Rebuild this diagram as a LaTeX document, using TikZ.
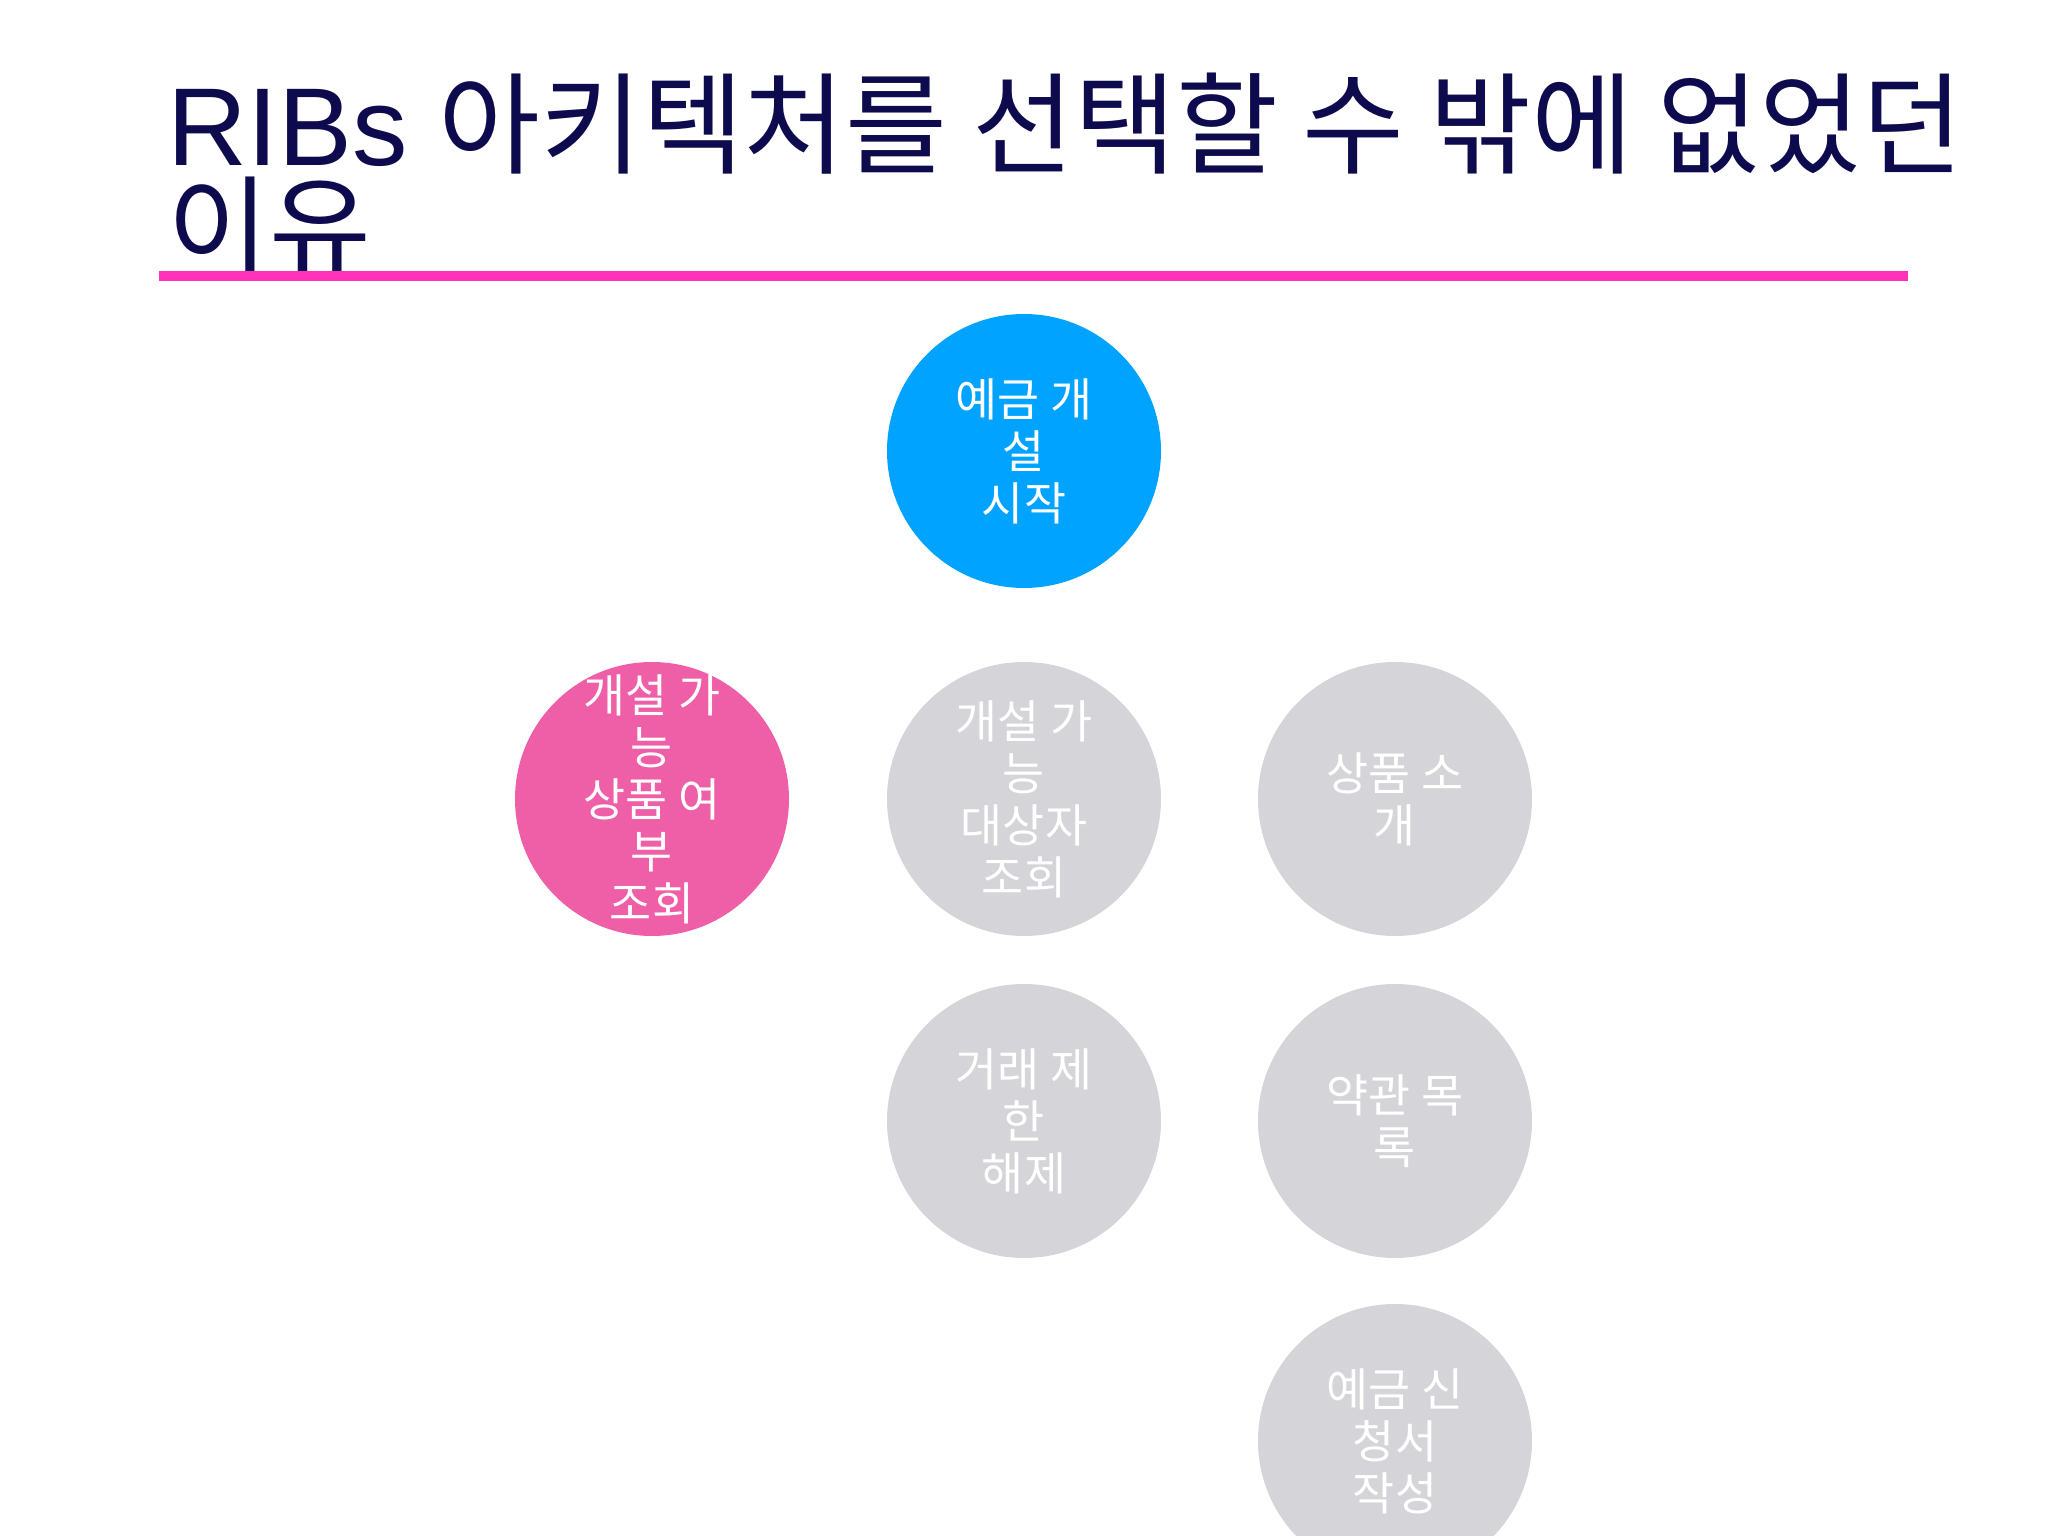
\documentclass[tikz,border=0pt]{standalone}
\usepackage{fontspec}
\usepackage{xcolor}
\usepackage{tikz}
\setmainfont{Liberation Sans}
\newfontfamily\kr{Noto Sans CJK KR}

\definecolor{titlenavy}{HTML}{0E0A4E}
\definecolor{rulepink}{HTML}{FF33BB}
\definecolor{startblue}{HTML}{00A3FF}
\definecolor{nowpink}{HTML}{EF5FA7}
\definecolor{stepgray}{HTML}{D5D4D8}

\tikzset{
	bubble/.style={circle, minimum size=2.74cm, inner sep=0pt, text=white, align=center,
		font=\kr\fontsize{13}{14.8}\selectfont},
	startbubble/.style={bubble, fill=startblue},
	nowbubble/.style={bubble, fill=nowpink, inner sep=-0.1cm},
	restbubble/.style={bubble, fill=stepgray}
}

\begin{document}
\begin{tikzpicture}
	\useasboundingbox (0,0) rectangle (20.48,-15.36);
	\clip (0,0) rectangle (20.48,-15.36);
%title
	\node[anchor=base west, inner sep=0pt, text=titlenavy, align=left,
		font=\fontsize{31.5}{28}\selectfont] at (1.67,-2.69) (title)
		{RIBs {\kr 아키텍처를 선택할 수 밖에 없었던}\\{\kr 이유}};
	\draw[rulepink, line width=0.1cm] (1.59,-2.757) -- (19.08,-2.757);
%steps
	\node[startbubble] at (10.24,-4.51) (start) {예금 개\\설\\시작};
	\node[nowbubble] at (6.52,-7.99) (product) {개설 가\\능\\상품 여\\부\\조회};
	\node[restbubble] at (10.24,-7.99) (target) {개설 가\\능\\대상자\\조회};
	\node[restbubble] at (13.95,-7.99) (intro) {상품 소\\개};
	\node[restbubble] at (10.24,-11.21) (limit) {거래 제\\한\\해제};
	\node[restbubble] at (13.95,-11.21) (terms) {약관 목\\록};
	\node[restbubble] at (13.95,-14.41) (form) {예금 신\\청서\\작성};
\end{tikzpicture}
\end{document}
